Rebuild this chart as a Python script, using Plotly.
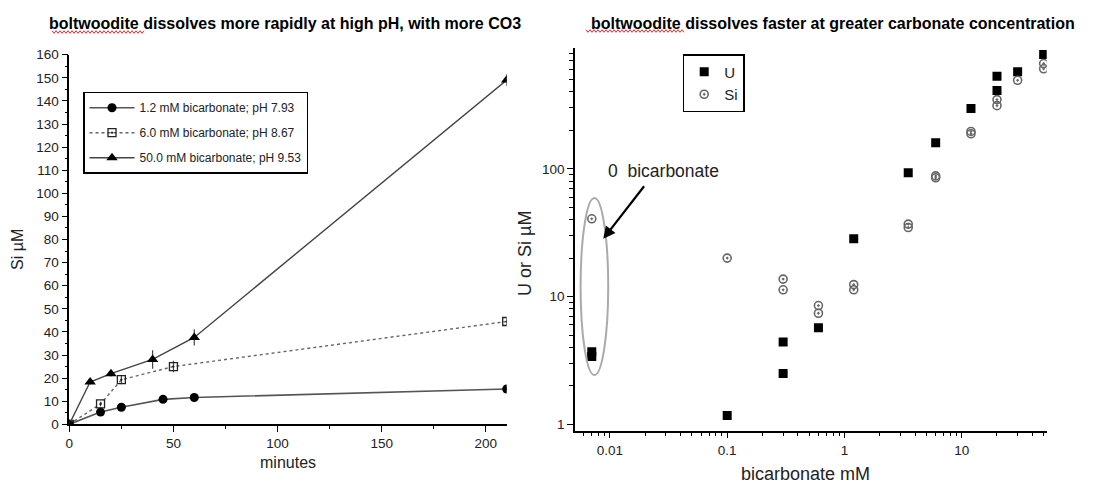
import plotly.graph_objects as go

W, H = 1102, 483

# ---- Left panel: Si release over time ----
minutes_12 = [0, 15, 25, 45, 60, 210]
si_12 = [0, 5.3, 7.4, 10.8, 11.6, 15.3]
err_12 = [0, 0.5, 0.5, 0.8, 0.8, 0.8]

minutes_60 = [0, 15, 25, 50, 210]
si_60 = [0, 8.8, 19.3, 25.0, 44.5]
err_60 = [0, 1.0, 2.0, 2.5, 1.5]

minutes_500 = [0, 10, 20, 40, 60, 210]
si_500 = [0, 18.3, 21.9, 28.1, 37.6, 149]
err_500 = [0, 1.0, 1.2, 4.0, 3.5, 2.5]

label_12 = "1.2 mM bicarbonate; pH 7.93"
label_60 = "6.0 mM bicarbonate; pH 8.67"
label_500 = "50.0 mM bicarbonate; pH 9.53"

# ---- Right panel: U and Si vs bicarbonate (0 bicarbonate plotted at 0.007) ----
bicarb_u = [0.007, 0.007, 0.1, 0.3, 0.3, 0.6, 1.2, 3.5, 6, 12, 20, 20, 30, 50]
u_uM = [3.4, 3.7, 1.17, 4.4, 2.5, 5.7, 28.4, 93, 160, 297, 530, 410, 574, 784]

bicarb_si = [0.007, 0.1, 0.3, 0.3, 0.6, 0.6, 1.2, 1.2, 3.5, 3.5, 6, 6, 12, 12, 20, 20, 30, 50, 50]
si_uM = [40.6, 20, 13.7, 11.3, 8.5, 7.4, 12.4, 11.3, 36.9, 34.7, 88, 85, 196, 188, 348, 312, 493, 666, 606]

lin_x_ticks = [0, 50, 100, 150, 200]
log_x_ticks = [0.01, 0.1, 1, 10]
log_x_minor = [0.005, 0.006, 0.007, 0.008, 0.009,
               0.02, 0.03, 0.04, 0.05, 0.06, 0.07, 0.08, 0.09,
               0.2, 0.3, 0.4, 0.5, 0.6, 0.7, 0.8, 0.9,
               2, 3, 4, 5, 6, 7, 8, 9, 20, 30, 40, 50]
log_y_ticks = [1, 10, 100]
log_y_minor = [2, 3, 4, 5, 6, 7, 8, 9, 20, 30, 40, 50, 60, 70, 80, 90,
               200, 300, 400, 500, 600, 700, 800]


def px(x):
    return x / W


def py(y):
    return 1 - y / H


FONT = "Liberation Sans, Arial, sans-serif"
TICKC = "#222"

fig = go.Figure()

fig.add_trace(go.Scatter(
    x=minutes_12, y=si_12, name=label_12, mode="lines+markers",
    line=dict(color="#555", width=1.6),
    marker=dict(symbol="circle", size=9, color="black"),
    error_y=dict(type="data", array=err_12, width=0, thickness=1.2, color="#444"),
    legend="legend", legendgroup="a", xaxis="x", yaxis="y"))
fig.add_trace(go.Scatter(
    x=minutes_60, y=si_60, name=label_60, mode="lines+markers",
    line=dict(color="#666", width=1.4, dash="dot"),
    marker=dict(symbol="square-open-dot", size=8, color="#222", line=dict(width=1.3)),
    error_y=dict(type="data", array=err_60, width=0, thickness=1.2, color="#444"),
    legend="legend", legendgroup="b", xaxis="x", yaxis="y"))
fig.add_trace(go.Scatter(
    x=minutes_500, y=si_500, name=label_500, mode="lines+markers",
    line=dict(color="#444", width=1.4),
    marker=dict(symbol="triangle-up", size=10, color="black"),
    error_y=dict(type="data", array=err_500, width=0, thickness=1.2, color="#444"),
    legend="legend", legendgroup="c", xaxis="x", yaxis="y"))

fig.add_trace(go.Scatter(
    x=bicarb_u, y=u_uM, name="U", mode="markers",
    marker=dict(symbol="square", size=9, color="black"),
    legend="legend2", xaxis="x2", yaxis="y2"))
fig.add_trace(go.Scatter(
    x=bicarb_si, y=si_uM, name="Si", mode="markers",
    marker=dict(symbol="circle-open-dot", size=8, color="#666", line=dict(width=1.6)),
    legend="legend2", xaxis="x2", yaxis="y2"))

axis_common = dict(showline=True, linecolor="black", linewidth=1.5, ticks="outside",
                   tickcolor="black", tickwidth=1.3, ticklen=6, showgrid=False,
                   zeroline=False, automargin=False,
                   tickfont=dict(family=FONT, size=13.5, color=TICKC))

fig.update_layout(
    width=W, height=H, margin=dict(l=0, r=0, t=0, b=0, pad=0, autoexpand=False),
    plot_bgcolor="white", paper_bgcolor="white",
    xaxis=dict(domain=[px(69.3), px(506.7)], range=[0, 210], tickvals=lin_x_ticks,
               minor=dict(dtick=25, tick0=0, ticks="outside", ticklen=3, tickcolor="black"),
               anchor="y", **axis_common),
    yaxis=dict(domain=[py(424.3), py(54.7)], range=[0, 160], dtick=10,
               minor=dict(dtick=5, tick0=0, ticks="outside", ticklen=3, tickcolor="black"),
               anchor="x", **axis_common),
    xaxis2=dict(domain=[px(575), px(1046.7)], type="log", range=[-2.298, 1.725],
                tickvals=log_x_ticks, ticktext=["0.01", "0.1", "1", "10"],
                minor=dict(tickvals=log_x_minor, ticks="outside", ticklen=4, tickcolor="black"),
                anchor="y2", **axis_common),
    yaxis2=dict(domain=[py(430.7), py(48.3)], type="log", range=[-0.05, 2.943],
                tickvals=log_y_ticks, ticktext=["1", "10", "100"],
                minor=dict(tickvals=log_y_minor, ticks="outside", ticklen=4, tickcolor="black"),
                anchor="x2", **axis_common),
    legend=dict(x=px(83), y=py(91.7), xanchor="left", yanchor="top",
                bordercolor="black", borderwidth=1.5, bgcolor="white",
                font=dict(family=FONT, size=12, color="#222"),
                tracegroupgap=6, traceorder="grouped", itemwidth=45),
    legend2=dict(x=px(682.7), y=py(54), xanchor="left", yanchor="top",
                 bordercolor="black", borderwidth=1.5, bgcolor="white",
                 font=dict(family=FONT, size=15, color="#222")),
    showlegend=True,
)

C = dict(xref="paper", yref="paper", showarrow=False, xanchor="center", yanchor="middle")
annotations = [
    dict(text="<b>boltwoodite dissolves more rapidly at high pH, with more CO3</b>",
         x=px(285), y=py(23), font=dict(family=FONT, size=16, color="black"), **C),
    dict(text="<b>boltwoodite dissolves faster at greater carbonate concentration</b>",
         x=px(833), y=py(23), font=dict(family=FONT, size=16, color="black"), **C),
    dict(text="minutes", x=px(288), y=py(462), font=dict(family=FONT, size=16, color="#222"), **C),
    dict(text="Si µM", x=px(17), y=py(250), textangle=-90,
         font=dict(family=FONT, size=16, color="#222"), **C),
    dict(text="U or Si µM", x=px(525), y=py(254), textangle=-90,
         font=dict(family=FONT, size=18, color="#222"), **C),
    dict(text="bicarbonate mM", x=px(805), y=py(474),
         font=dict(family=FONT, size=18, color="#222"), **C),
    dict(text="0\u00a0 bicarbonate", x=-1.544, y=1.98, xref="x2", yref="y2", showarrow=False,
         xanchor="center", yanchor="middle", font=dict(family=FONT, size=17.5, color="#222")),
    dict(text="", x=-2.057, y=1.452, xref="x2", yref="y2", showarrow=True,
         ax=42, ay=-54, arrowhead=2, arrowsize=1.1, arrowwidth=2.2, arrowcolor="black"),
]
fig.update_layout(annotations=annotations)

# ellipse around the zero-bicarbonate points
shapes = [dict(type="circle", xref="x2", yref="y2", x0=0.00562, x1=0.00967, y0=2.43, y1=59,
               line=dict(color="#aaa", width=2))]


def squiggle(x0, x1, y, amp=1.3, step=2.0):
    pts = []
    x = x0
    k = 0
    while x <= x1:
        pts.append((px(x), py(y + (amp if k % 2 else -amp))))
        x += step
        k += 1
    return "M" + " L".join(f"{a:.5f},{b:.5f}" for a, b in pts)


for x0, x1, yy in [(52, 145, 32), (586, 684, 31)]:
    shapes.append(dict(type="path", xref="paper", yref="paper", path=squiggle(x0, x1, yy),
                       line=dict(color="#e03030", width=1)))
fig.update_layout(shapes=shapes)

fig.write_html("out.html")
